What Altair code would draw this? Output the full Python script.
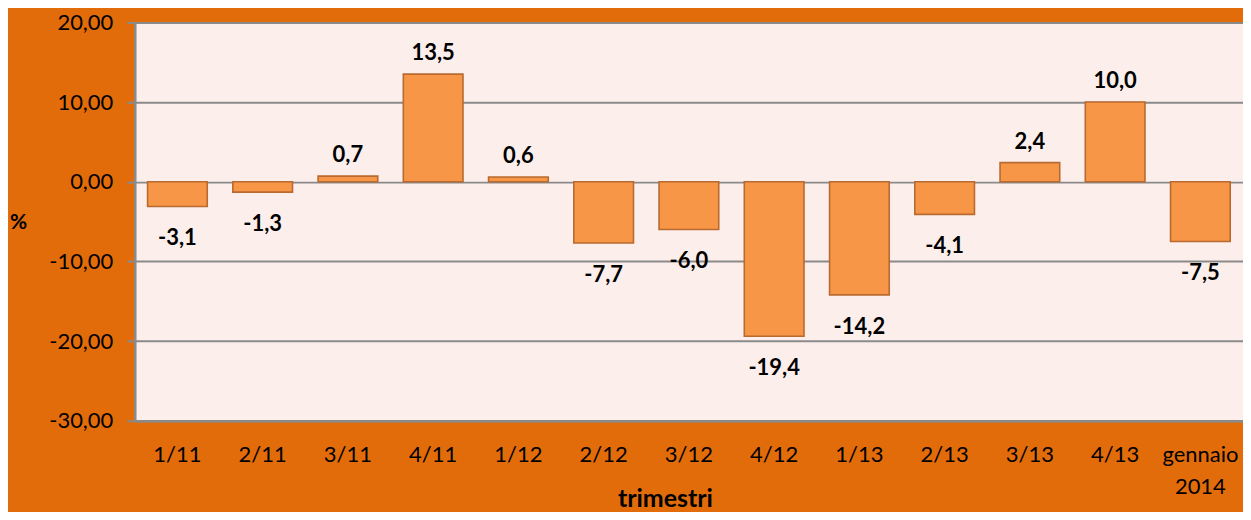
import altair as alt
import pandas as pd

categories = ["1/11", "2/11", "3/11", "4/11", "1/12", "2/12", "3/12", "4/12",
              "1/13", "2/13", "3/13", "4/13", "gennaio 2014"]
values = [-3.1, -1.3, 0.7, 13.5, 0.6, -7.7, -6.0, -19.4, -14.2, -4.1, 2.4, 10.0, -7.5]

df = pd.DataFrame({"cat": categories, "val": values})
df["lab"] = [f"{v:.1f}".replace(".", ",") for v in values]

FONT = "Lato"
GRAY = "#8A8A8A"

x = alt.X("cat:N", sort=categories,
          scale=alt.Scale(paddingInner=0.3, paddingOuter=0.15),
          axis=alt.Axis(title="trimestri", labelAngle=0, ticks=False,
                        domainColor=GRAY, domainWidth=2.5,
                        labelFont=FONT, labelFontSize=22, labelColor="#000000",
                        labelPadding=34, labelLineHeight=32,
                        labelBaseline="middle",
                        labelExpr="datum.value == 'gennaio 2014' ? ['gennaio', '2014'] : datum.label",
                        titleFont=FONT, titleFontSize=25, titleFontWeight="bold",
                        titleColor="#000000", titleX=531, titleY=78,
                        titleAlign="center", titleBaseline="middle"))
y = alt.Y("val:Q",
          scale=alt.Scale(domain=[-30, 20], nice=False),
          axis=alt.Axis(title="%", values=[-30, -20, -10, 0, 10, 20],
                        labelExpr="(datum.value < 0 ? '-' : '') + replace(format(abs(datum.value), '.2f'), '.', ',')",
                        labelFont=FONT, labelFontSize=22, labelColor="#000000",
                        labelPadding=14, tickSize=8, tickColor=GRAY, tickWidth=2,
                        domainColor=GRAY, domainWidth=2.5,
                        grid=True, gridColor=GRAY, gridWidth=2,
                        titleFont=FONT, titleFontSize=21, titleFontWeight="bold",
                        titleColor="#000000", titleAngle=0, titleX=-117, titleY=200,
                        titleAlign="center", titleBaseline="middle"))

base = alt.Chart(df)

bars = base.mark_bar(fill="#F79646", stroke="#B86A30", strokeWidth=1.6).encode(x=x, y=y)

pos = base.transform_filter("datum.val >= 0").mark_text(
    font=FONT, fontSize=22, fontWeight="bold", color="#000000",
    baseline="middle", dy=-21).encode(x=x, y=y, text="lab:N")
neg = base.transform_filter("datum.val < 0").mark_text(
    font=FONT, fontSize=22, fontWeight="bold", color="#000000",
    baseline="middle", dy=32).encode(x=x, y=y, text="lab:N")

chart = alt.layer(bars, pos, neg).properties(
    width=1110, height=399,
    background="#E36C0A",
    autosize=alt.AutoSizeParams(type="none"),
    padding={"left": 127, "top": 14, "right": 0, "bottom": 91},
).configure_view(fill="#FCEFEB", stroke=None)

chart.save("out.html", embed_options={"renderer": "svg", "actions": False})
